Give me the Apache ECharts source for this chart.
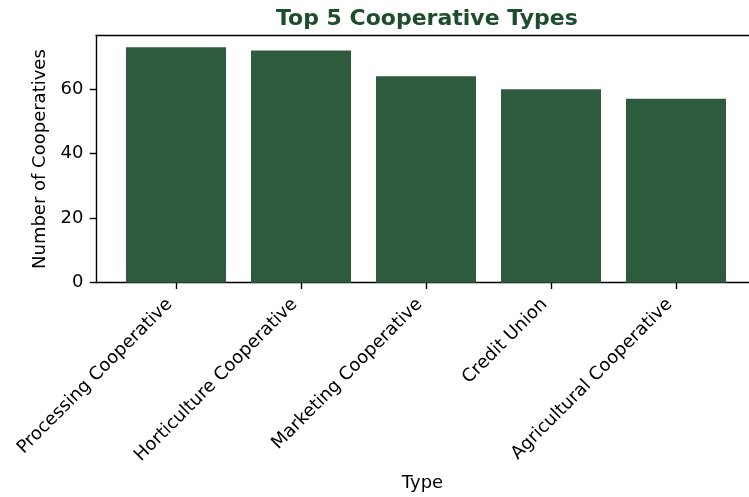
<!DOCTYPE html>
<html>
<head>
<meta charset="utf-8">
<script src="https://cdn.jsdelivr.net/npm/echarts@6/dist/echarts.min.js"></script>
<style>html,body{margin:0;padding:0;background:#fff}#c{width:749px;height:497px}</style>
</head>
<body>
<div id="c"></div>
<script>
const categories = ["Processing Cooperative", "Horticulture Cooperative", "Marketing Cooperative", "Credit Union", "Agricultural Cooperative"];
const counts = [73, 72, 64, 60, 57];
const yTicks = [0, 20, 40, 60];
const titleText = "Top 5 Cooperative Types";
const xName = "Type";
const yName = "Number of Cooperatives";

const font = "DejaVu Sans";
const barColor = "#2e5b3e";
const lw = 1.4;
const chart = echarts.init(document.getElementById('c'), null, {renderer: 'canvas'});
const xIdx = categories.map((_, i) => i);
const xMin = -0.64, xMax = -0.64 + 653 / 125;
chart.setOption({
  animation: false,
  title: {
    text: titleText, left: 271, top: 3,
    textStyle: {fontFamily: font, fontSize: 22, fontWeight: 'bold', color: '#1e4d2e'}
  },
  grid: {left: 96, top: 35.5, width: 653, height: 247.2, show: false, containLabel: false},
  xAxis: [{
    type: 'value', min: xMin, max: xMax,
    name: xName, nameLocation: 'middle', nameGap: 192,
    nameTextStyle: {fontFamily: font, fontSize: 18, color: '#000'},
    splitLine: {show: false},
    axisLine: {show: true, onZero: false, lineStyle: {color: '#000', width: lw}},
    axisTick: {show: true, length: 6.3, lineStyle: {color: '#000', width: lw}, customValues: xIdx},
    axisLabel: {
      rotate: 45, margin: 12.6, padding: [0, 9, 0, 0], fontFamily: font, fontSize: 18, color: '#000',
      customValues: xIdx,
      formatter: v => categories[Math.round(v)] || ''
    }
  }, {
    type: 'value', position: 'top', min: xMin, max: xMax,
    splitLine: {show: false},
    axisLine: {show: true, onZero: false, lineStyle: {color: '#000', width: lw}},
    axisTick: {show: false}, axisLabel: {show: false}
  }],
  yAxis: {
    type: 'value', min: 0, max: Math.max(...counts) * 1.05,
    name: yName, nameLocation: 'middle', nameGap: 45,
    nameTextStyle: {fontFamily: font, fontSize: 18, color: '#000'},
    splitLine: {show: false},
    axisLine: {show: true, onZero: false, lineStyle: {color: '#000', width: lw}},
    axisTick: {show: true, length: 6.3, lineStyle: {color: '#000', width: lw}, customValues: yTicks},
    axisLabel: {margin: 12.6, fontFamily: font, fontSize: 18, color: '#000', customValues: yTicks}
  },
  series: [{
    type: 'bar',
    xAxisIndex: 0,
    data: counts.map((v, i) => [i, v]),
    barWidth: 100,
    itemStyle: {color: barColor}
  }]
});
</script>
</body>
</html>
